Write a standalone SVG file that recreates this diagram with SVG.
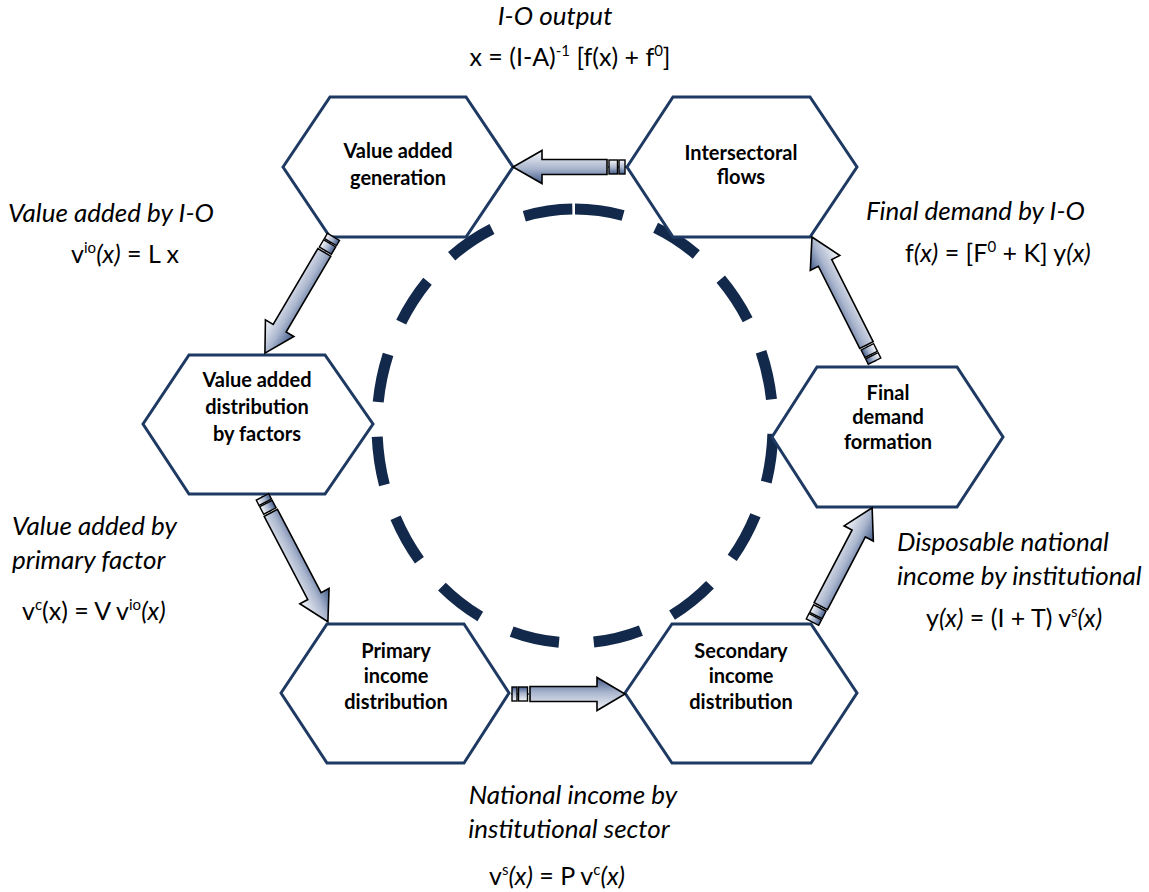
<svg xmlns="http://www.w3.org/2000/svg" width="1149" height="892" viewBox="0 0 1149 892">
<defs>
<style>
.hex{fill:#ffffff;stroke:#1f3a62;stroke-width:3;stroke-linejoin:miter}
.ring{fill:none;stroke:#13294b;stroke-width:11}
.node{font-family:Lato,"Liberation Sans",sans-serif;font-weight:bold;font-size:20px;fill:#000;text-anchor:middle}
.lab{font-family:Lato,"Liberation Sans",sans-serif;font-style:italic;font-size:26px;fill:#000}
.frm{font-family:Lato,"Liberation Sans",sans-serif;font-size:25px;fill:#000}
.sup{font-size:15px}
.it{font-style:italic}
.ar{stroke:#000;stroke-width:1.6;stroke-linejoin:miter}
.blk{stroke:#000;stroke-width:1.4}
.mid{stroke:#1f3a62;stroke-width:1.5}
</style>
<linearGradient id="gA" x1="0" y1="0" x2="0" y2="1">
<stop offset="0" stop-color="#425a8a"/>
<stop offset="0.45" stop-color="#a9b5cd"/>
<stop offset="1" stop-color="#f6f7fa"/>
</linearGradient>
<linearGradient id="gB" x1="0" y1="1" x2="0" y2="0">
<stop offset="0" stop-color="#425a8a"/>
<stop offset="0.45" stop-color="#a9b5cd"/>
<stop offset="1" stop-color="#f6f7fa"/>
</linearGradient>
</defs>
<rect width="1149" height="892" fill="#ffffff"/>

<path class="ring" d="M575 209 A198 217 0 0 1 575 643 A198 217 0 0 1 575 209" stroke-dasharray="48.7 34.8"/>

<g id="n1"><polygon class="hex" points="283,167 330,97 466,97 513,167 466,237 330,237"/>
<text class="node" x="398" y="158">Value added</text><text class="node" x="398" y="185">generation</text></g>
<g id="n2"><polygon class="hex" points="627,167 673,97 810,97 857,167 810,237 673,237"/>
<text class="node" x="741" y="160">Intersectoral</text><text class="node" x="741" y="184">flows</text></g>
<g id="n3"><polygon class="hex" points="143,424 189,355 325,355 373,424 325,494 189,494"/>
<text class="node" x="257" y="387">Value added</text><text class="node" x="257" y="414">distribution</text><text class="node" x="257" y="441">by factors</text></g>
<g id="n4"><polygon class="hex" points="772,437 817,367 957,367 1003,437 957,507 817,507"/>
<text class="node" x="888" y="400">Final</text><text class="node" x="888" y="424">demand</text><text class="node" x="888" y="449">formation</text></g>
<g id="n5"><polygon class="hex" points="281,693 327,624 464,624 509,693 464,763 327,763"/>
<text class="node" x="396" y="658">Primary</text><text class="node" x="396" y="683">income</text><text class="node" x="396" y="709">distribution</text></g>
<g id="n6"><polygon class="hex" points="625,693 672,624 811,624 857,693 811,763 672,763"/>
<text class="node" x="741" y="658">Secondary</text><text class="node" x="741" y="683">income</text><text class="node" x="741" y="709">distribution</text></g>

<g id="connectors">
<g transform="translate(626,167) rotate(180)">
<line class="mid" x1="0" y1="0" x2="18" y2="0"/>
<rect class="blk" x="1" y="-7" width="6" height="14" fill="url(#gA)"/>
<rect class="blk" x="8.5" y="-7" width="8.5" height="14" fill="url(#gA)"/>
<polygon class="ar" fill="url(#gA)" points="19,-7.5 84,-7.5 84,-16.5 113,0 84,16.5 84,7.5 19,7.5"/>
</g>
<g transform="translate(511,694)">
<line class="mid" x1="0" y1="0" x2="18" y2="0"/>
<rect class="blk" x="1" y="-7" width="5" height="14" fill="url(#gA)"/>
<rect class="blk" x="7.5" y="-7" width="9" height="14" fill="url(#gA)"/>
<polygon class="ar" fill="url(#gA)" points="19,-7.5 86,-7.5 86,-16.5 114,0 86,16.5 86,7.5 19,7.5"/>
</g>
<g transform="translate(334,236) rotate(120.53)">
<line class="mid" x1="0" y1="0" x2="18" y2="0"/>
<rect class="blk" x="1" y="-7" width="6" height="14" fill="url(#gA)"/>
<rect class="blk" x="8.5" y="-7" width="8.5" height="14" fill="url(#gA)"/>
<polygon class="ar" fill="url(#gA)" points="19,-7.5 107,-7.5 107,-16.5 136,0 107,16.5 107,7.5 19,7.5"/>
</g>
<g transform="translate(262,496) rotate(62.35)">
<line class="mid" x1="0" y1="0" x2="18" y2="0"/>
<rect class="blk" x="1" y="-7" width="6" height="14" fill="url(#gA)"/>
<rect class="blk" x="8.5" y="-7" width="8.5" height="14" fill="url(#gA)"/>
<polygon class="ar" fill="url(#gA)" points="19,-7.5 113,-7.5 113,-16.5 142,0 113,16.5 113,7.5 19,7.5"/>
</g>
<g transform="translate(812,623) rotate(-62.45)">
<line class="mid" x1="0" y1="0" x2="18" y2="0"/>
<rect class="blk" x="1" y="-7" width="6" height="14" fill="url(#gB)"/>
<rect class="blk" x="8.5" y="-7" width="8.5" height="14" fill="url(#gB)"/>
<polygon class="ar" fill="url(#gB)" points="19,-7.5 101,-7.5 101,-16.5 130,0 101,16.5 101,7.5 19,7.5"/>
</g>
<g transform="translate(875,362) rotate(-116.75)">
<line class="mid" x1="0" y1="0" x2="18" y2="0"/>
<rect class="blk" x="1" y="-7" width="6" height="14" fill="url(#gA)"/>
<rect class="blk" x="8.5" y="-7" width="8.5" height="14" fill="url(#gA)"/>
<polygon class="ar" fill="url(#gA)" points="19,-7.5 111,-7.5 111,-16.5 140,0 111,16.5 111,7.5 19,7.5"/>
</g>
</g>

<g id="labels">
<text class="lab" x="555" y="25" text-anchor="middle">I-O output</text>
<text class="frm" x="570" y="66" text-anchor="middle">x = (I-A)<tspan class="sup" dy="-10">-1</tspan><tspan dy="10"> [f(x) + f</tspan><tspan class="sup" dy="-10">0</tspan><tspan dy="10">]</tspan></text>

<text class="lab" x="8" y="222">Value added by I-O</text>
<text class="frm" x="125" y="263" text-anchor="middle">v<tspan class="sup" dy="-10">io</tspan><tspan class="it" dy="10">(x)</tspan> = L x</text>

<text class="lab" x="866" y="220">Final demand by I-O</text>
<text class="frm" x="905" y="262">f<tspan class="it">(x)</tspan> = [F<tspan class="sup" dy="-10">0</tspan><tspan dy="10"> + K] y</tspan><tspan class="it">(x)</tspan></text>

<text class="lab" x="12" y="535">Value added by</text>
<text class="lab" x="12" y="569">primary factor</text>
<text class="frm" x="22" y="620">v<tspan class="sup" dy="-10">c</tspan><tspan dy="10">(x) = V v</tspan><tspan class="sup" dy="-10">io</tspan><tspan class="it" dy="10">(x)</tspan></text>

<text class="lab" x="897" y="551">Disposable national</text>
<text class="lab" x="897" y="585">income by institutional</text>
<text class="frm" x="926" y="627">y<tspan class="it">(x)</tspan> = (I + T) v<tspan class="sup" dy="-10">s</tspan><tspan class="it" dy="10">(x)</tspan></text>

<text class="lab" x="573" y="804" text-anchor="middle">National income by</text>
<text class="lab" x="569" y="838" text-anchor="middle">institutional sector</text>
<text class="frm" x="489" y="885">v<tspan class="sup" dy="-10">s</tspan><tspan class="it" dy="10">(x)</tspan> = P v<tspan class="sup" dy="-10">c</tspan><tspan class="it" dy="10">(x)</tspan></text>
</g>
</svg>
